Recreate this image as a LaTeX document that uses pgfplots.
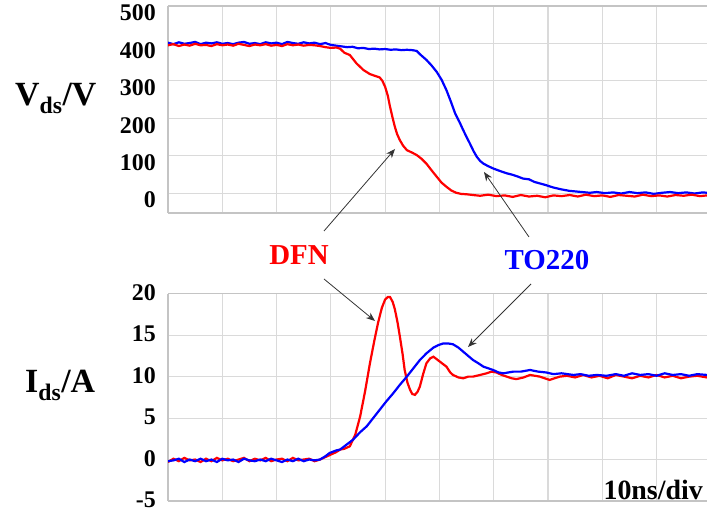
\documentclass[border=0pt]{standalone}
\usepackage{pgfplots}
\pgfplotsset{compat=1.18}
\usepackage{fontspec}
\setmainfont{Liberation Serif}
\usetikzlibrary{arrows.meta}
\definecolor{gridc}{HTML}{DADADA}
\definecolor{framec}{HTML}{C4C4C4}
\begin{document}
\begin{tikzpicture}[x=1bp,y=1bp]
\useasboundingbox (0,0) rectangle (707,511);
\pgfplotsset{
  myax/.style={
    scale only axis, width=539bp, height=207bp,
    xmin=0, xmax=99.3,
    xtick={0,10,...,90}, xticklabels={},
    axis x line*=box, axis y line*=left,
    axis line style={-, draw=framec, line width=1.5bp},
    major tick length=0pt,
    grid=major, major grid style={draw=gridc, line width=1.1bp},
    /pgf/number format/assume math mode=true,
    yticklabel style={font=\fontsize{24}{26}\selectfont\bfseries, inner sep=0pt, xshift=-12bp},
    clip=true,
  }
}
% ---------- top panel ----------
\begin{axis}[myax, at={(168bp,298bp)}, anchor=south west,
  ymin=-53, ymax=500, ytick={0,100,...,500},
  yticklabel style={yshift=-7bp}]
\addplot[blue, line width=2.2bp] coordinates {
(0,402)(1,398)(2,403)(3,399)(4,401)(5,404)(6,398)(7,402)(8,400)(9,403)(10,399)(11,401)(12,398)(13,402)(14,404)(15,399)(16,401)(17,398)(18,403)(19,400)(20,402)(21,398)(22,404)(23,401)(24,399)(25,403)(26,400)(27,402)(28,398)(29,401)(30,396)(31,394)(32,392)(33,390)(34,391)(35,387)(36,388)(37,385)(38,386)(39,384)(40,385)(41,383)(42,384)(43,382)(44,383)(45,382)(45.8,380)(46.5,370)(47.6,356)(48.5,342)(49.5,324)(50.4,303)(51.3,275)(52.1,245)(52.9,213)(53.7,190)(54.4,168)(55.0,150)(55.6,133)(56.3,112)(56.9,97)(57.5,86)(58.1,79)(59.0,72)(59.9,66)(61,60)(62.4,53)(63.5,49)(64.5,44)(65.4,39)(66.5,37)(67.5,30)(68.5,26)(69.5,22)(71,15)(72.5,10)(74,6)(75.5,4)(77.7,1)(79,3)(80.5,0)(82,2)(83.5,-1)(85,3)(86.5,0)(88,2)(89.5,-2)(91,1)(92.5,3)(94,0)(95.5,2)(97,-1)(98.5,2)(99.3,1)
};
\addplot[red, line width=2.2bp] coordinates {
(0,395)(1,398)(2,393)(3,397)(4,394)(5,399)(6,395)(7,396)(8,393)(9,398)(10,395)(11,397)(12,394)(13,399)(14,396)(15,393)(16,397)(17,395)(18,398)(19,394)(20,396)(21,393)(22,398)(23,395)(24,397)(25,394)(26,396)(27,395)(28,393)(29,390)(30,388)(31,389)(31.7,386)(32.5,375)(33.5,369)(34.7,347)(36.0,329)(37.2,318)(38.2,313)(39.0,309)(39.5,300)(40.0,284)(40.5,260)(40.9,231)(41.4,200)(41.8,177)(42.2,158)(42.7,142)(43.3,127)(44.0,115)(45.0,108)(45.8,102)(46.7,92)(47.6,79)(48.5,62)(49.5,44)(50.4,28)(51.3,17)(52.2,7)(53.1,1)(54,-2)(55,-3)(56.2,-5)(57.5,-7)(59,-4)(60.5,-8)(62,-6)(63.5,-10)(65,-5)(66.5,-9)(68,-7)(69.5,-11)(71,-6)(72.5,-8)(74,-5)(75.5,-9)(77,-4)(78.5,-8)(80,-6)(81.5,-10)(83,-5)(84.5,-7)(86,-9)(87.5,-4)(89,-8)(90.5,-6)(92,-9)(93.5,-5)(95,-7)(96.5,-4)(98,-8)(99.3,-6)
};
\end{axis}
% ---------- bottom panel ----------
\begin{axis}[myax, at={(168bp,10bp)}, anchor=south west, height=207.3bp,
  ymin=-5, ymax=20, ytick={-5,0,...,20},
  yticklabel style={yshift=1bp}]
\addplot[red, line width=2.2bp] coordinates {
(0,-0.3)(1,0.1)(2,-0.2)(3,0.2)(4,-0.1)(5,0.0)(6,-0.3)(7,0.1)(8,-0.2)(9,0.2)(10,-0.1)(11,0.1)(12,-0.2)(13,0.0)(14,0.2)(15,-0.2)(16,0.1)(17,-0.1)(18,0.2)(19,-0.2)(20,0.0)(21,0.1)(22,-0.2)(23,0.2)(24,-0.1)(25,0.0)(26,0.1)(27,-0.2)(28,0.0)(29,0.3)(30,0.6)(31,0.9)(31.7,1.2)(32.5,1.3)(33.5,1.6)(34.5,3.0)(35.4,5.2)(36.3,8.2)(37.2,11.6)(38.0,14.3)(38.7,16.5)(39.4,18.3)(40.0,19.3)(40.5,19.6)(40.9,19.6)(41.4,19.0)(41.8,18.1)(42.3,16.5)(42.7,14.9)(43.2,12.8)(43.6,10.8)(44.1,9.3)(44.6,8.4)(45.0,7.9)(45.5,7.8)(46.0,8.2)(46.4,8.8)(47.0,10.3)(47.6,11.6)(48.3,12.2)(48.9,12.4)(49.5,12.1)(50.1,11.8)(50.7,11.5)(51.3,11.2)(52.0,10.5)(52.5,10.2)(53.5,9.9)(54.4,9.8)(55.3,10.0)(56.2,10.0)(57.5,10.2)(58.7,10.4)(59.6,10.6)(60.5,10.5)(61.5,10.2)(62.4,10.0)(63.3,9.8)(64.2,9.7)(65.5,9.9)(66.7,10.2)(67.6,10.1)(68.5,10.0)(69.4,9.8)(70.3,9.6)(71.2,9.8)(72.2,10.0)(73.5,10.1)(75,9.9)(76.5,10.2)(78,9.9)(79.5,10.1)(81,9.8)(82.5,10.2)(84,10.0)(85.5,9.8)(87,10.1)(88.5,9.9)(90,10.2)(91.5,9.9)(93,10.1)(94.5,9.8)(96,10.0)(97.5,10.1)(99.3,9.9)
};
\addplot[blue, line width=2.2bp] coordinates {
(0,-0.2)(1,-0.1)(2,0.1)(3,-0.3)(4,0.0)(5,-0.2)(6,0.1)(7,-0.2)(8,0.0)(9,-0.3)(10,0.1)(11,-0.1)(12,0.0)(13,-0.3)(14,0.1)(15,-0.1)(16,-0.2)(17,0.0)(18,-0.2)(19,0.1)(20,-0.1)(21,-0.3)(22,0.0)(23,-0.2)(24,0.1)(25,-0.2)(26,0.0)(27,-0.1)(28,0.0)(29,0.4)(29.8,0.8)(31,1.1)(31.7,1.2)(32.9,1.8)(34.1,2.4)(35.4,3.3)(36.6,4.0)(37.8,5.0)(39.0,6.0)(40.2,7.0)(41.5,8.0)(42.7,9.0)(44.0,10.0)(45.2,11.0)(46.4,12.0)(47.6,12.8)(48.9,13.5)(49.8,13.8)(50.7,14.0)(51.6,14.0)(52.5,13.9)(53.5,13.5)(54.4,13.0)(55.3,12.5)(56.2,12.0)(57.2,11.6)(58.1,11.2)(59.0,11.0)(59.9,10.8)(60.9,10.5)(61.8,10.4)(62.7,10.5)(63.6,10.6)(65,10.6)(66.7,10.8)(68.2,10.6)(69.7,10.5)(71,10.3)(72.5,10.4)(74.7,10.2)(76,10.3)(77.5,10.1)(79,10.2)(80.8,10.1)(82.5,10.3)(84,10.1)(85.5,10.4)(87,10.2)(88.5,10.3)(90,10.1)(91.5,10.4)(93,10.2)(94.5,10.3)(96,10.1)(97.5,10.3)(99.3,10.2)
};
\end{axis}
% ---------- labels ----------
\node[anchor=base west, inner sep=0pt, font=\fontsize{34}{36}\selectfont\bfseries] at (15,405) {V\textsubscript{ds}/V};
\node[anchor=base west, inner sep=0pt, font=\fontsize{34}{36}\selectfont\bfseries] at (25,118) {I\textsubscript{ds}/A};
\node[anchor=base east, inner sep=0pt, font=\fontsize{28}{30}\selectfont\bfseries] at (703,11) {10ns/div};
\node[inner sep=0pt, text=red, font=\fontsize{29}{31}\selectfont\bfseries] at (299,256) {DFN};
\node[inner sep=0pt, text=blue, font=\fontsize{29}{31}\selectfont\bfseries] at (547,251) {TO220};
\begin{scope}[draw=black!80, line width=0.8bp, -{Stealth[length=9bp,width=7bp]}]
\draw (324,280) -- (395,362);
\draw (324,232) -- (375,190);
\draw (529,274) -- (484,339);
\draw (531,227) -- (468,164);
\end{scope}
\end{tikzpicture}
\end{document}
